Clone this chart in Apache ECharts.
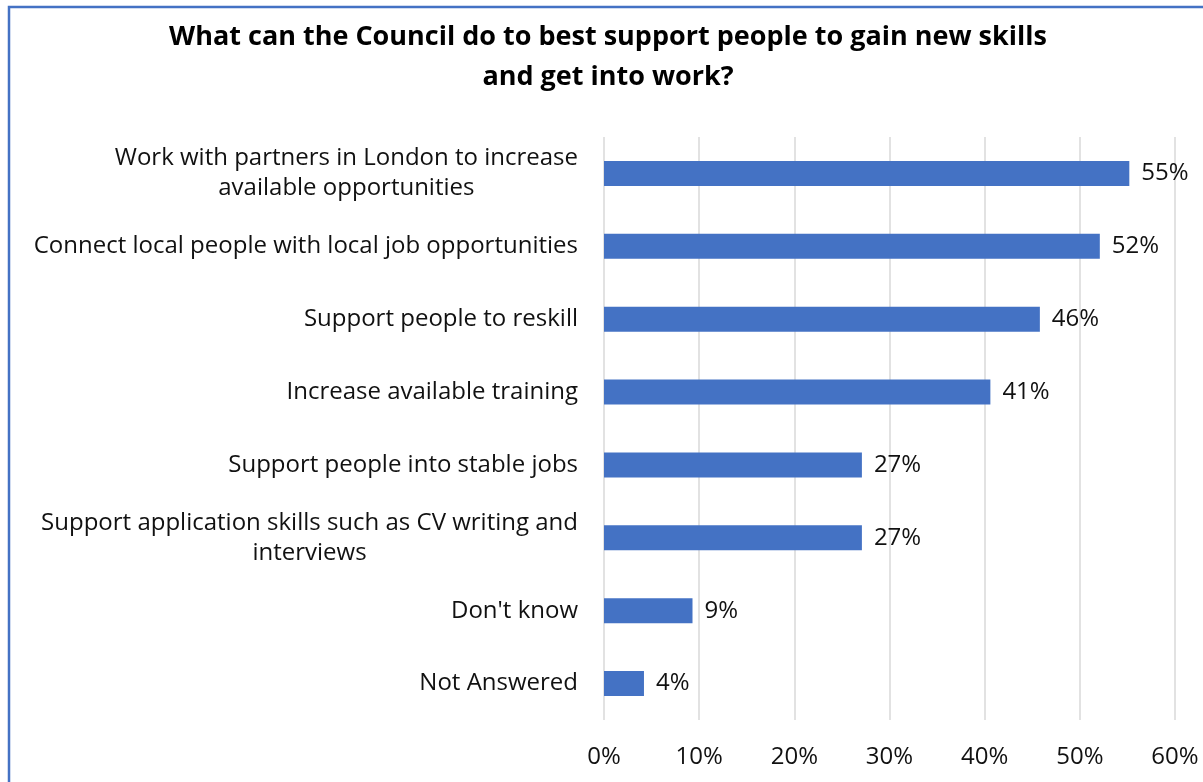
<!DOCTYPE html>
<html>
<head>
<meta charset="utf-8">
<script src="https://cdn.jsdelivr.net/npm/echarts@6/dist/echarts.min.js"></script>
<style>
html,body{margin:0;padding:0;background:#fff;}
#chart{width:1203px;height:782px;}
</style>
</head>
<body>
<div id="chart"></div>
<script>
const titleText = 'What can the Council do to best support people to gain new skills\nand get into work?';
const categories = [
  'Work with partners in London to increase\navailable opportunities',
  'Connect local people with local job opportunities',
  'Support people to reskill',
  'Increase available training',
  'Support people into stable jobs',
  'Support application skills such as CV writing and\ninterviews',
  "Don't know",
  'Not Answered'
];
const values = [55.2, 52.1, 45.8, 40.6, 27.1, 27.1, 9.3, 4.2];
const valueLabels = ['55%', '52%', '46%', '41%', '27%', '27%', '9%', '4%'];
const tickValues = [0, 10, 20, 30, 40, 50, 60];

const FONT = 'Open Sans';
const chart = echarts.init(document.getElementById('chart'), null, {renderer: 'canvas'});
chart.setOption({
  backgroundColor: '#fff',
  animation: false,
  title: {
    text: titleText,
    left: 603,
    top: 12,
    textAlign: 'center',
    textStyle: {fontFamily: FONT, fontWeight: 'bold', fontSize: 27, lineHeight: 40, color: '#000'}
  },
  graphic: [{
    type: 'rect', silent: true,
    shape: {x: 9, y: 7, width: 1400, height: 1000},
    style: {fill: 'none', stroke: '#4472C4', lineWidth: 2.5}
  }],
  grid: {left: 604, right: 28, top: 137, bottom: 62, containLabel: false},
  xAxis: {
    type: 'value', min: 0, max: 60, interval: 10,
    axisLine: {show: false}, axisTick: {show: false},
    splitLine: {show: true, lineStyle: {color: '#d9d9d9', width: 1.5}},
    axisLabel: {
      margin: 25, fontFamily: FONT, fontSize: 24, color: '#111',
      formatter: v => tickValues.includes(v) ? v + '%' : ''
    }
  },
  yAxis: {
    type: 'category', data: categories, inverse: true,
    axisLine: {show: false}, axisTick: {show: false},
    axisLabel: {
      margin: 26, fontFamily: FONT, fontSize: 24, color: '#111',
      formatter: v => v.split('\n').map(l => '{c|' + l + '}').join('\n'),
      rich: {c: {align: 'center', fontFamily: FONT, fontSize: 24, color: '#111', lineHeight: 30}}
    }
  },
  series: [{
    type: 'bar', data: values, barWidth: 25,
    itemStyle: {color: '#4472C4'},
    label: {
      show: true, position: 'right', distance: 12,
      fontFamily: FONT, fontSize: 24, color: '#111',
      formatter: p => valueLabels[p.dataIndex]
    }
  }]
});
</script>
</body>
</html>
